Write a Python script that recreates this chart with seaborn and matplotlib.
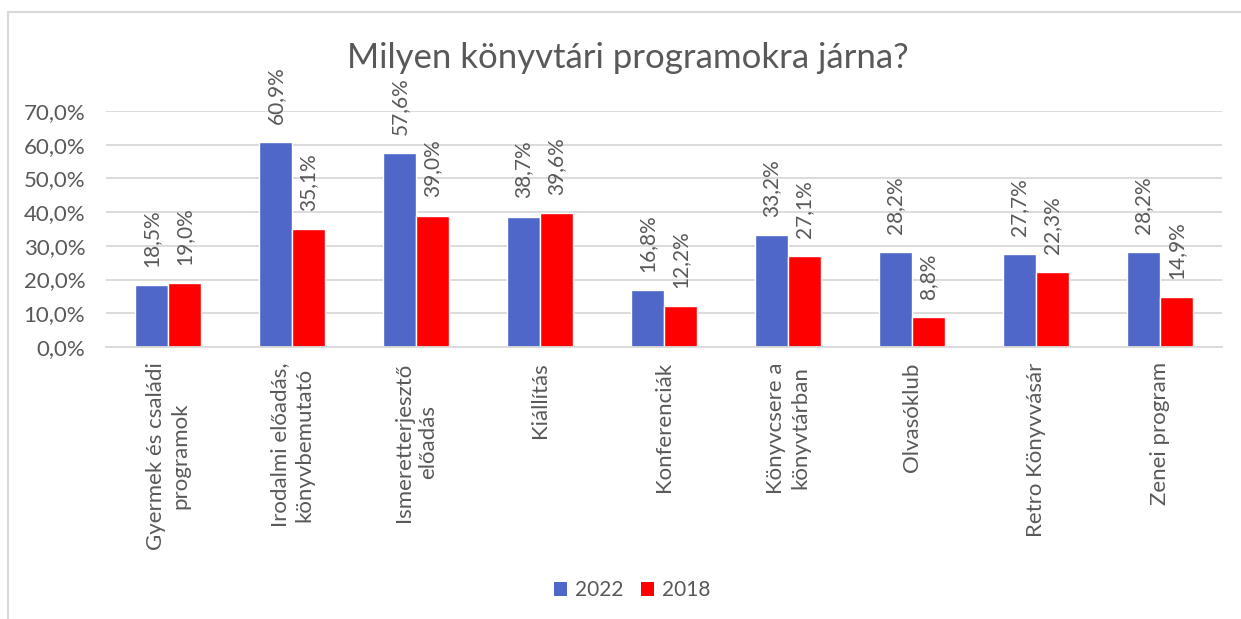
import matplotlib
matplotlib.use("Agg")
import matplotlib.pyplot as plt
import matplotlib.ticker as mticker
from matplotlib.lines import Line2D
from matplotlib.patches import Patch
import seaborn as sns
import pandas as pd

categories = [
    "Gyermek és családi\nprogramok",
    "Irodalmi előadás,\nkönyvbemutató",
    "Ismeretterjesztő\nelőadás",
    "Kiállítás",
    "Konferenciák",
    "Könyvcsere a\nkönyvtárban",
    "Olvasóklub",
    "Retro Könyvvásár",
    "Zenei program",
]
values_2022 = [18.5, 60.9, 57.6, 38.7, 16.8, 33.2, 28.2, 27.7, 28.2]
values_2018 = [19.0, 35.1, 39.0, 39.6, 12.2, 27.1, 8.8, 22.3, 14.9]
series_names = ["2022", "2018"]
colors = ["#4F67C9", "#FF0000"]
title = "Milyen könyvtári programokra járna?"
yticks = [0, 10, 20, 30, 40, 50, 60, 70]

rows = []
for c, v in zip(categories, values_2022):
    rows.append({"cat": c, "val": v, "year": series_names[0]})
for c, v in zip(categories, values_2018):
    rows.append({"cat": c, "val": v, "year": series_names[1]})
df = pd.DataFrame(rows)

sns.set_theme(style="white")
plt.rcParams["font.family"] = ["Lato", "DejaVu Sans"]
TXT = "#595959"

W, H = 1241, 619
fig = plt.figure(figsize=(W / 100, H / 100), dpi=100)
ax = fig.add_axes([106 / W, 1 - 347 / H, (1222 - 106) / W, (347 - 111) / H])

sns.barplot(data=df, x="cat", y="val", hue="year", hue_order=series_names,
            order=categories, palette=colors, width=0.53, saturation=1,
            ax=ax, legend=False)

fmt = lambda v: f"{v:.1f}%".replace(".", ",")
for cont in ax.containers:
    ax.bar_label(cont, labels=[fmt(b.get_height()) for b in cont],
                 rotation=90, padding=13, fontsize=15, color=TXT)

ax.set_ylim(0, 70)
ax.set_yticks(yticks)
ax.yaxis.set_major_formatter(mticker.FuncFormatter(lambda v, p: f"{v:.1f}%".replace(".", ",")))
ax.grid(axis="y", color="#D9D9D9", linewidth=1.3)
ax.set_axisbelow(True)
for s in ["top", "right", "left"]:
    ax.spines[s].set_visible(False)
ax.spines["bottom"].set_color("#D9D9D9")
ax.spines["bottom"].set_linewidth(1.3)
ax.set_xlabel("")
ax.set_ylabel("")
ax.tick_params(axis="both", length=0, labelsize=16, labelcolor=TXT)
ax.tick_params(axis="x", pad=11)
ax.tick_params(axis="y", pad=15)
ax.set_xticks(range(len(categories)))
ax.set_xticklabels(categories, rotation=90, ha="center", va="top",
                   multialignment="center", linespacing=1.3)

fig.text(628 / W, 1 - 58 / H, title, ha="center", va="center",
         fontsize=25, color=TXT)

handles = [Patch(facecolor=c, edgecolor="none") for c in colors]
fig.legend(handles, series_names, loc="center", ncol=2, frameon=False,
           bbox_to_anchor=(632 / W, 1 - 590 / H), fontsize=15,
           labelcolor=TXT, handlelength=0.65, handleheight=0.65,
           handletextpad=0.35, columnspacing=0.85)

fig.add_artist(Line2D([7.5 / W, 7.5 / W], [0, 1 - 12 / H], transform=fig.transFigure,
                      color="#D9D9D9", linewidth=1.5))
fig.add_artist(Line2D([7.5 / W, 1], [1 - 12 / H, 1 - 12 / H], transform=fig.transFigure,
                      color="#D9D9D9", linewidth=1.5))

fig.savefig("out.png", dpi=100)
